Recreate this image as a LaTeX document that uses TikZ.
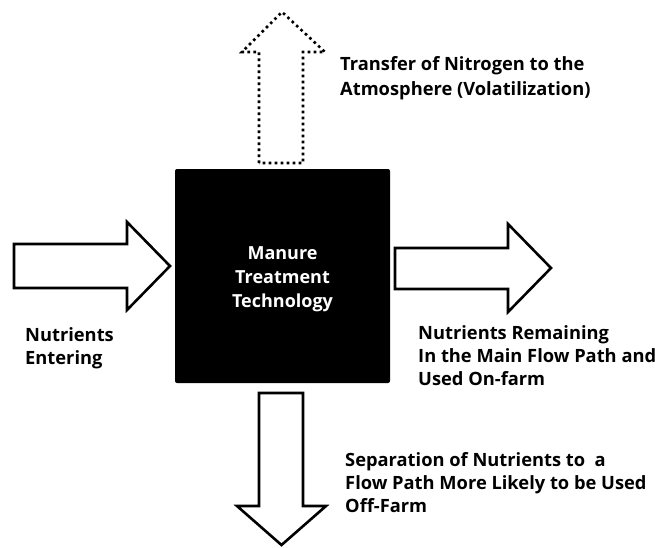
\documentclass[tikz,border=0pt]{standalone}
\usepackage{fontspec}
\setmainfont{Open Sans}
\begin{document}
\begin{tikzpicture}[x=1pt,y=-1pt,
  blockarrow/.style={draw=black,line width=2.6pt,fill=white,line join=miter},
  dotarrow/.style={draw=black,line width=2.6pt,dash pattern=on 2.6pt off 3.4pt,fill=white},
  lbl/.style={anchor=north west,align=left,inner sep=0pt,font=\fontsize{18.3}{23}\selectfont\bfseries}]
\useasboundingbox (0,0) rectangle (655,547);
% central box
\node[fill=black,rounded corners=2pt,minimum width=215pt,minimum height=214pt,inner sep=0pt] (box) at (282.5,276) {};
\node[text=white,align=center,inner sep=0pt,font=\fontsize{18}{24}\selectfont\bfseries] (boxtext) at (282.5,279)
      {Manure\\Treatment\\Technology};
% left arrow (in)
\draw[blockarrow] (14,244) -- (127,244) -- (127,222) -- (170,266) -- (127,310) -- (127,288) -- (14,288) -- cycle;
% right arrow (out)
\draw[blockarrow] (395,248) -- (508,248) -- (508,224) -- (551,268) -- (508,312) -- (508,289) -- (395,289) -- cycle;
% down arrow
\draw[blockarrow] (259,393) -- (303,393) -- (303,506) -- (326,506) -- (281.5,545) -- (237,506) -- (259,506) -- cycle;
% up dotted arrow
\draw[dotarrow] (259,163) -- (259,52) -- (242,52) -- (282,12) -- (325,52) -- (303,52) -- (303,163) -- cycle;
% labels
\node[lbl,font=\fontsize{18.3}{25}\selectfont\bfseries] (tUp) at (340,56) {Transfer of Nitrogen to the\\Atmosphere (Volatilization)};
\node[lbl] (tIn) at (25,327) {Nutrients\\Entering};
\node[lbl] (tOut) at (418,325) {Nutrients Remaining\\In the Main Flow Path and\\Used On-farm};
\node[lbl] (tDown) at (345,452) {Separation of Nutrients to\ \ a\\Flow Path More Likely to be Used\\Off-Farm};
\end{tikzpicture}
\end{document}
